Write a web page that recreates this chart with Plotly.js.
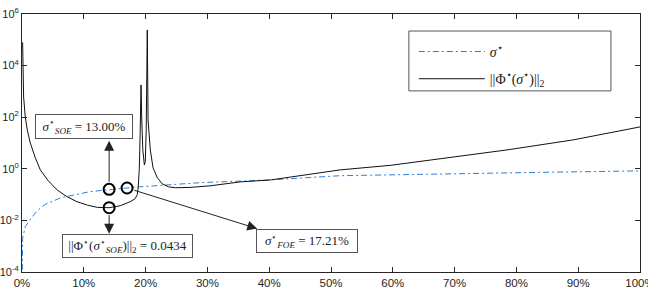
<!DOCTYPE html>
<html>
<head>
<meta charset="utf-8">
<script src="https://cdn.plot.ly/plotly-3.0.1.min.js"></script>
<style>html,body{margin:0;padding:0;background:#fff;}#chart{width:648px;height:296px;}</style>
</head>
<body>
<div id="chart"></div>
<script>
// sigma* curve (x as fraction of 100%)
const sigmaX = [0.0, 0.001, 0.0053, 0.015, 0.025, 0.037, 0.063, 0.086, 0.11, 0.141, 0.17, 0.19, 0.288, 0.40, 0.515, 0.677, 0.84, 1.0];
const sigmaY = [0.00001, 0.002, 0.0057, 0.0126, 0.024, 0.041, 0.076, 0.10, 0.13, 0.155, 0.177, 0.20, 0.29, 0.37, 0.54, 0.64, 0.73, 0.83];

// ||Phi*(sigma*)||_2 curve
const normX = [0.001, 0.0026, 0.0053, 0.0086, 0.0134, 0.0215, 0.0296, 0.0426, 0.057, 0.073, 0.089, 0.106, 0.122, 0.141, 0.159, 0.175, 0.183, 0.1866, 0.188, 0.1898, 0.1913, 0.1926, 0.1938, 0.1955, 0.198, 0.1995, 0.201, 0.2027, 0.204, 0.2076, 0.212, 0.219, 0.227, 0.237, 0.248, 0.272, 0.305, 0.353, 0.402, 0.45, 0.515, 0.596, 0.677, 0.785, 0.892, 0.95, 1.0];
const normY = [80000, 610, 100, 32, 10, 2.7, 0.91, 0.34, 0.15, 0.083, 0.053, 0.039, 0.032, 0.031, 0.037, 0.053, 0.069, 0.10, 0.19, 1.0, 32, 1780, 78, 5.4, 1.4, 1.9, 32, 240000, 78, 5.4, 1.1, 0.45, 0.26, 0.20, 0.184, 0.19, 0.22, 0.31, 0.37, 0.54, 0.91, 1.36, 2.4, 5.4, 13.2, 24.6, 42];

// highlighted points: SOE sigma, SOE norm, FOE sigma
const markX = [0.141, 0.141, 0.170];
const markY = [0.16, 0.031, 0.18];

// tick labels
const xTicks = [0, 0.1, 0.2, 0.3, 0.4, 0.5, 0.6, 0.7, 0.8, 0.9, 1.0];
const xTickText = ['0%', '10%', '20%', '30%', '40%', '50%', '60%', '70%', '80%', '90%', '100%'];
const yTicks = [1e-4, 1e-2, 1, 1e2, 1e4, 1e6];
const yTickText = ['10<sup>-4</sup>', '10<sup>-2</sup>', '10<sup>0</sup>', '10<sup>2</sup>', '10<sup>4</sup>', '10<sup>6</sup>'];

// annotation / legend texts
const labelSOE = '<i>σ</i><sup>⋆</sup><sub><i>SOE</i></sub> = 13.00%';
const labelNorm = '||Φ<sup>⋆</sup>(<i>σ</i><sup>⋆</sup><sub><i>SOE</i></sub>)||<sub>2</sub> = 0.0434';
const labelFOE = '<i>σ</i><sup>⋆</sup><sub><i>FOE</i></sub> = 17.21%';
const nameSigma = '<i>σ</i><sup>⋆</sup>';
const nameNorm = '||Φ<sup>⋆</sup>(<i>σ</i><sup>⋆</sup>)||<sub>2</sub>';

const serif = 'Liberation Serif';
const sans = 'Liberation Sans';
const axisColor = '#262626';

const traces = [
  {x: sigmaX, y: sigmaY, type: 'scatter', mode: 'lines', name: nameSigma,
   legendgroup: 'a', line: {color: '#2f7fd8', width: 1, dash: '6px,3px,2px,3px'}},
  {x: normX, y: normY, type: 'scatter', mode: 'lines', name: nameNorm,
   legendgroup: 'b', line: {color: '#111', width: 1}},
  {x: markX, y: markY, type: 'scatter', mode: 'markers', showlegend: false, hoverinfo: 'skip',
   marker: {symbol: 'circle-open', size: 11, color: '#000', line: {width: 2, color: '#000'}}}
];

const L = Math.log10;
const boxStyle = {showarrow: false, xref: 'x', yref: 'y', font: {family: serif, size: 13, color: '#222'},
  bgcolor: '#fff', bordercolor: '#555', borderwidth: 1, borderpad: 0, align: 'center', valign: 'middle'};
const arrowStyle = {text: '', showarrow: true, xref: 'x', yref: 'y', axref: 'x', ayref: 'y',
  arrowhead: 2, arrowsize: 2, arrowwidth: 1, arrowcolor: '#222', startstandoff: 6};

const annotations = [
  Object.assign({}, boxStyle, {x: 0.100, y: 1.625, text: labelSOE, width: 96, height: 23}),
  Object.assign({}, boxStyle, {x: 0.1704, y: -3.0, text: labelNorm, width: 129, height: 22}),
  Object.assign({}, boxStyle, {x: 0.4604, y: -2.805, text: labelFOE, width: 100, height: 22}),
  Object.assign({}, arrowStyle, {x: markX[0], y: 1.083, ax: markX[0], ay: L(markY[0])}),
  Object.assign({}, arrowStyle, {x: markX[1], y: -2.515, ax: markX[1], ay: L(markY[1])}),
  Object.assign({}, arrowStyle, {x: 0.3807, y: -2.32, ax: markX[2], ay: L(markY[2])})
];

// legend frame (paper coordinates of the plot area)
const shapes = [
  {type: 'rect', xref: 'paper', yref: 'paper', x0: 0.626, x1: 0.953, y0: 0.702, y1: 0.934,
   line: {color: '#555', width: 1}, fillcolor: '#fff', layer: 'below'}
];

const layout = {
  width: 648, height: 296,
  margin: {l: 22, r: 8, t: 14, b: 24, pad: 0},
  paper_bgcolor: '#fff', plot_bgcolor: '#fff',
  font: {family: sans, size: 11, color: axisColor},
  showlegend: true,
  legend: {x: 0.634, y: 0.915, xanchor: 'left', yanchor: 'top', bgcolor: 'rgba(0,0,0,0)',
    borderwidth: 0, font: {family: serif, size: 14, color: '#222'},
    tracegroupgap: 6, itemwidth: 66},
  xaxis: {range: [0, 1], tickvals: xTicks, ticktext: xTickText, ticks: 'inside', ticklen: 5,
    tickcolor: axisColor, showline: true, linecolor: axisColor, linewidth: 1, mirror: 'ticks',
    showgrid: false, zeroline: false, ticklabeloverflow: 'allow',
    tickfont: {family: sans, size: 11.5, color: axisColor}},
  yaxis: {type: 'log', range: [-4, 6], tickvals: yTicks, ticktext: yTickText, ticks: 'inside', ticklen: 5,
    tickcolor: axisColor, showline: true, linecolor: axisColor, linewidth: 1, mirror: 'ticks',
    showgrid: false, zeroline: false, ticklabeloverflow: 'allow',
    tickfont: {family: sans, size: 11, color: axisColor}},
  shapes: shapes,
  annotations: annotations
};

Plotly.newPlot('chart', traces, layout, {displayModeBar: false, staticPlot: true});
</script>
</body>
</html>
